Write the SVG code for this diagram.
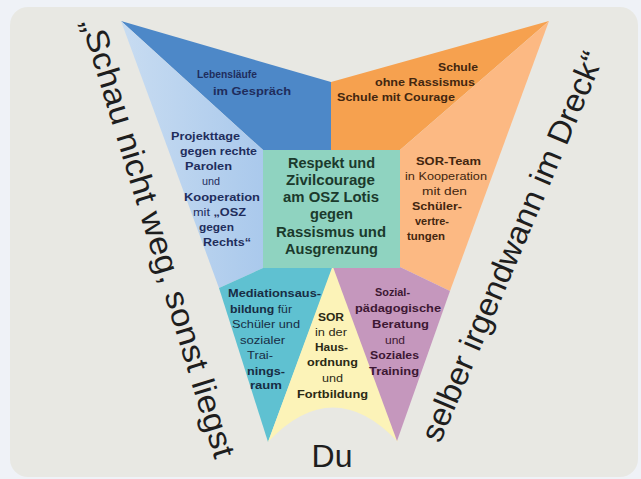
<svg xmlns="http://www.w3.org/2000/svg" width="641" height="479" viewBox="0 0 641 479">
<style>
.t{font-family:"Liberation Sans",Arial,sans-serif;font-weight:bold;font-size:11px}
.r{font-weight:normal}
.c{font-size:14px}
.big{font-family:"Liberation Sans",Arial,sans-serif;font-size:32px;fill:#1e1e1e}
.navy{fill:#1f2d5c}
.brown{fill:#43260f}
.green{fill:#1b3a2c}
.teal{fill:#182d44}
.olive{fill:#2b2914}
.plum{fill:#3d1733}
</style>
<defs>
<linearGradient id="lb" x1="0" y1="0" x2="1" y2="0">
<stop offset="0" stop-color="#c8dcf1"/>
<stop offset="1" stop-color="#aac9ec"/>
</linearGradient>
</defs>
<rect x="0" y="0" width="641" height="479" fill="#eff2f7"/>
<rect x="10" y="7" width="628" height="470" rx="18" fill="#e8e8e3"/>

<g id="connectors"/>

<g id="node-lebenslaeufe">
<polygon points="121,21 331,82 331,150 263,150" fill="#4d88c8"/>
<text class="t navy" x="197" y="78" textLength="60" lengthAdjust="spacingAndGlyphs">Lebensläufe</text>
<text class="t navy" x="213" y="95" textLength="78" lengthAdjust="spacingAndGlyphs">im Gespräch</text>
</g>

<g id="node-schule">
<polygon points="549,21 331,82 331,150 400,150" fill="#f6a14f"/>
<text class="t brown" x="438" y="71" textLength="40" lengthAdjust="spacingAndGlyphs">Schule</text>
<text class="t brown" x="375" y="86" textLength="100" lengthAdjust="spacingAndGlyphs">ohne Rassismus</text>
<text class="t brown" x="337" y="101" textLength="118" lengthAdjust="spacingAndGlyphs">Schule mit Courage</text>
</g>

<g id="node-projekttage">
<polygon points="121,21 263,150 263,268 219,288" fill="url(#lb)"/>
<text class="t navy" x="171" y="140" textLength="69" lengthAdjust="spacingAndGlyphs">Projekttage</text>
<text class="t navy" x="180" y="155" textLength="77" lengthAdjust="spacingAndGlyphs">gegen rechte</text>
<text class="t navy" x="185" y="170" textLength="47" lengthAdjust="spacingAndGlyphs">Parolen</text>
<text class="t r navy" x="202" y="185" textLength="18" lengthAdjust="spacingAndGlyphs">und</text>
<text class="t navy" x="184" y="201" textLength="76" lengthAdjust="spacingAndGlyphs">Kooperation</text>
<text class="t navy" x="193" y="216" textLength="53" lengthAdjust="spacingAndGlyphs"><tspan class="r">mit</tspan> „OSZ</text>
<text class="t navy" x="199" y="231" textLength="35" lengthAdjust="spacingAndGlyphs">gegen</text>
<text class="t navy" x="203" y="246" textLength="48" lengthAdjust="spacingAndGlyphs">Rechts“</text>
</g>

<g id="node-sorteam">
<polygon points="549,21 400,150 400,267 450,291" fill="#fcb983"/>
<text class="t brown" x="416" y="165" textLength="65" lengthAdjust="spacingAndGlyphs">SOR-Team</text>
<text class="t r brown" x="405" y="180" textLength="82" lengthAdjust="spacingAndGlyphs">in Kooperation</text>
<text class="t r brown" x="422" y="195" textLength="45" lengthAdjust="spacingAndGlyphs">mit den</text>
<text class="t brown" x="412" y="210" textLength="50" lengthAdjust="spacingAndGlyphs">Schüler-</text>
<text class="t brown" x="415" y="225" textLength="34" lengthAdjust="spacingAndGlyphs">vertre-</text>
<text class="t brown" x="407" y="240" textLength="38" lengthAdjust="spacingAndGlyphs">tungen</text>
</g>

<g id="node-mediation">
<polygon points="219,288 263,268 333,267 268,442" fill="#5fc1d1"/>
<text class="t teal" x="228" y="297" textLength="93" lengthAdjust="spacingAndGlyphs">Mediationsaus-</text>
<text class="t teal" x="230" y="313" textLength="62" lengthAdjust="spacingAndGlyphs">bildung <tspan class="r">für</tspan></text>
<text class="t r teal" x="232" y="328" textLength="68" lengthAdjust="spacingAndGlyphs">Schüler und</text>
<text class="t r teal" x="240" y="344" textLength="45" lengthAdjust="spacingAndGlyphs">sozialer</text>
<text class="t r teal" x="247" y="359" textLength="26" lengthAdjust="spacingAndGlyphs">Trai-</text>
<text class="t teal" x="247" y="375" textLength="38" lengthAdjust="spacingAndGlyphs">nings-</text>
<text class="t teal" x="250" y="389" textLength="32" lengthAdjust="spacingAndGlyphs">raum</text>
</g>

<g id="node-sor-hausordnung">
<path d="M333,265 L268,442 Q333,373 398,442 Z" fill="#fcf3b8"/>
<text class="t olive" x="318" y="321" textLength="26" lengthAdjust="spacingAndGlyphs">SOR</text>
<text class="t r olive" x="315" y="336" textLength="32" lengthAdjust="spacingAndGlyphs">in der</text>
<text class="t olive" x="315" y="351" textLength="33" lengthAdjust="spacingAndGlyphs">Haus-</text>
<text class="t olive" x="307" y="366" textLength="51" lengthAdjust="spacingAndGlyphs">ordnung</text>
<text class="t r olive" x="322" y="382" textLength="21" lengthAdjust="spacingAndGlyphs">und</text>
<text class="t olive" x="297" y="398" textLength="71" lengthAdjust="spacingAndGlyphs">Fortbildung</text>
</g>

<g id="node-sozial">
<polygon points="333,267 400,267 450,291 397,441" fill="#c597bd"/>
<text class="t plum" x="375" y="296" textLength="35" lengthAdjust="spacingAndGlyphs">Sozial-</text>
<text class="t plum" x="355" y="312" textLength="86" lengthAdjust="spacingAndGlyphs">pädagogische</text>
<text class="t plum" x="372" y="328" textLength="57" lengthAdjust="spacingAndGlyphs">Beratung</text>
<text class="t r plum" x="385" y="344" textLength="20" lengthAdjust="spacingAndGlyphs">und</text>
<text class="t plum" x="370" y="359" textLength="49" lengthAdjust="spacingAndGlyphs">Soziales</text>
<text class="t plum" x="369" y="375" textLength="50" lengthAdjust="spacingAndGlyphs">Training</text>
</g>

<g id="node-respekt">
<rect x="263" y="150" width="137" height="118" fill="#8fd3c0"/>
<text class="t c green" x="288" y="168" textLength="87" lengthAdjust="spacingAndGlyphs">Respekt und</text>
<text class="t c green" x="286" y="185" textLength="89" lengthAdjust="spacingAndGlyphs">Zivilcourage</text>
<text class="t c green" x="283" y="202" textLength="96" lengthAdjust="spacingAndGlyphs">am OSZ Lotis</text>
<text class="t c green" x="310" y="219" textLength="43" lengthAdjust="spacingAndGlyphs">gegen</text>
<text class="t c green" x="276" y="237" textLength="110" lengthAdjust="spacingAndGlyphs">Rassismus und</text>
<text class="t c green" x="285" y="254" textLength="93" lengthAdjust="spacingAndGlyphs">Ausgrenzung</text>
</g>

<g id="node-slogan-left">
<text class="big" transform="translate(81,22) rotate(73)" textLength="458" lengthAdjust="spacingAndGlyphs">„Schau nicht weg, sonst liegst</text>
</g>
<g id="node-slogan-right">
<text class="big" transform="translate(440,444) rotate(-67)" textLength="420" lengthAdjust="spacingAndGlyphs">selber irgendwann im Dreck“</text>
</g>
<g id="node-du">
<text class="big" x="332" y="467" text-anchor="middle" font-size="33">Du</text>
</g>
</svg>
